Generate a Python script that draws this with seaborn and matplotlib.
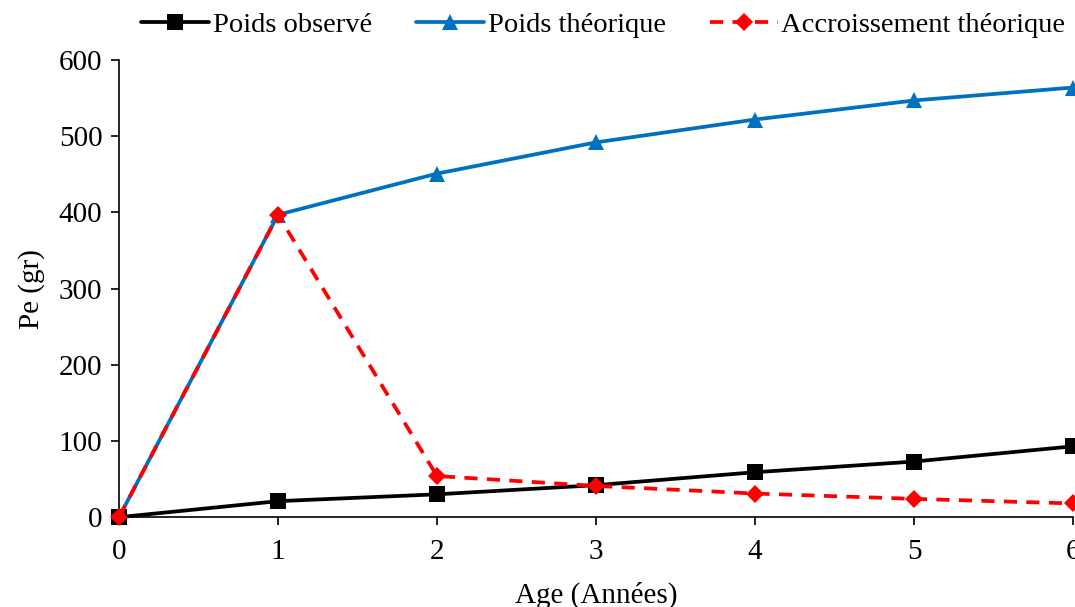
import matplotlib
matplotlib.use("Agg")
import matplotlib.pyplot as plt
import seaborn as sns
import pandas as pd

age = [0, 1, 2, 3, 4, 5, 6]
poids_observe = [0, 21, 30, 42, 59, 73, 93]
poids_theorique = [0, 397, 451, 492, 522, 547, 564]
accroissement_theorique = [0, 397, 54, 41, 31, 24, 18]
yticks = [0, 100, 200, 300, 400, 500, 600]

sns.set_theme(style="ticks")
plt.rcParams['font.family'] = ['Liberation Serif', 'DejaVu Serif']

fig = plt.figure(figsize=(10.75, 6.07), dpi=100)
ax = fig.add_axes([0.1107, 0.148, 0.8875, 0.753])

df_o = pd.DataFrame({"x": age, "y": poids_observe})
df_t = pd.DataFrame({"x": age, "y": poids_theorique})
df_a = pd.DataFrame({"x": age, "y": accroissement_theorique})

sns.lineplot(data=df_o, x="x", y="y", ax=ax, color="black", lw=2.7,
             marker="s", markersize=11, markeredgewidth=0, label="Poids observé",
             clip_on=False, zorder=3)
sns.lineplot(data=df_t, x="x", y="y", ax=ax, color="#0070C0", lw=2.7,
             marker="^", markersize=11, markeredgewidth=0, label="Poids théorique",
             clip_on=False, zorder=2)
sns.lineplot(data=df_a, x="x", y="y", ax=ax, color="#FF0000", lw=2.7,
             linestyle=(0, (3.5, 2.5)), marker="D", markersize=9.5, markeredgewidth=0,
             label="Accroissement théorique", clip_on=False, zorder=4)

ax.set_xlim(0, 6)
ax.set_ylim(0, 600)
ax.set_yticks(yticks)
ax.set_xticks(age)
ax.tick_params(axis="both", labelsize=21, direction="out", length=6, width=1.2,
               color="black", labelcolor="black")
ax.tick_params(axis="y", pad=6)
ax.tick_params(axis="x", pad=10)
for s in ["top", "right"]:
    ax.spines[s].set_visible(False)
for s in ["left", "bottom"]:
    ax.spines[s].set_color("black")
    ax.spines[s].set_linewidth(1.2)
ax.set_xlabel("Age (Années)", fontsize=21, color="black", labelpad=12)
ax.set_ylabel("Pe (gr)", fontsize=21, color="black", labelpad=10)

leg = ax.legend(loc="center", bbox_to_anchor=(0.5074, 1.076), ncol=3, frameon=False,
                fontsize=20.5, handlelength=2.4, columnspacing=1.55, handletextpad=0.12)
for t in leg.get_texts():
    t.set_color("black")

fig.savefig("out.png", dpi=100)
